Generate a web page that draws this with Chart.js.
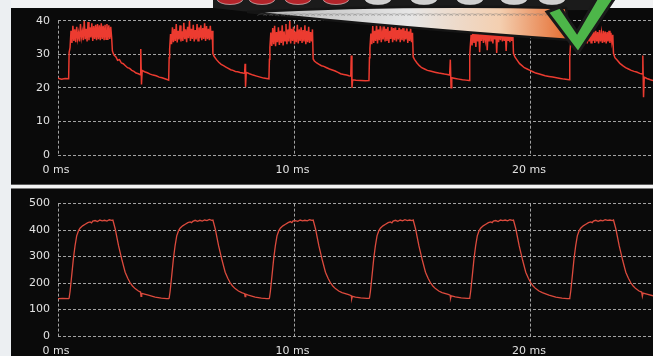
<!DOCTYPE html>
<html lang="en">
<head>
<meta charset="UTF-8">
<title>Scope traces</title>
<script src="https://cdn.jsdelivr.net/npm/chart.js"></script>
<style>
    html, body { margin: 0; padding: 0; }
    body {
        width: 653px;
        height: 356px;
        overflow: hidden;
        position: relative;
        background: #eceff2;
        font-family: "DejaVu Sans", sans-serif;
    }
    .panel { position: absolute; left: 11px; width: 642px; }
    #topPanel { top: 0; height: 184px; background: linear-gradient(to bottom, #f1f2f3 0, #f1f2f3 8px, #0a0a0a 8px); }
    #bottomPanel { top: 189px; height: 167px; background: #0a0a0a; }
    #divider {
        position: absolute; left: 11px; top: 184px; width: 642px; height: 5px;
        background: linear-gradient(to bottom, #5a5a5a 0, #5a5a5a 1px, #f4f4f4 1px, #f4f4f4 4px, #7a7a7a 4px);
    }
    canvas { display: block; }
</style>
</head>
<body>
<div class="panel" id="topPanel"><canvas id="topChart" width="642" height="184"></canvas></div>
<div id="divider"></div>
<div class="panel" id="bottomPanel"><canvas id="bottomChart" width="642" height="167"></canvas></div>

<script>
// time axis (ms)
const xTicks = [0, 10, 20];
const xMax = 25.16;

// top trace: [ms, value]
const topYTicks = [0, 10, 20, 30, 40];
const topTrace = [
    [0, 22.9], [0.15, 22.6], [0.3, 22.8], [0.45, 22.7],
    [0.47, 30.5], [0.51, 32], [0.55, 37], [0.59, 33.4], [0.63, 38.5], [0.67, 34], [0.71, 37.4], [0.75, 33.6],
    [0.79, 38.2], [0.83, 34.6], [0.87, 36.4], [0.91, 33.8], [0.95, 39], [0.99, 35], [1.03, 36.8], [1.07, 34.2],
    [1.11, 40], [1.15, 34.5], [1.19, 37.6], [1.23, 33.8], [1.27, 39.6], [1.31, 34.2], [1.35, 38], [1.39, 35],
    [1.43, 39.2], [1.47, 34], [1.51, 38.4], [1.55, 34.6], [1.59, 38.8], [1.63, 34.2], [1.67, 39], [1.71, 34.5],
    [1.75, 38.6], [1.79, 34.2], [1.83, 39.2], [1.87, 34.6], [1.91, 38.5], [1.95, 34.2], [1.99, 38.8], [2.03, 34.5],
    [2.07, 39], [2.11, 34.3], [2.15, 38.6], [2.19, 34.6], [2.23, 38.2], [2.27, 34.8],
    [2.30, 31], [2.36, 29.8], [2.45, 29.2], [2.52, 28.2], [2.60, 28.4], [2.68, 27.4], [2.76, 27.2], [2.85, 26.6],
    [2.94, 26], [3.03, 25.8], [3.12, 25.2], [3.21, 24.9], [3.30, 24.4], [3.40, 24.2], [3.48, 23.9], [3.50, 31.6],
    [3.53, 21], [3.56, 25.2], [3.66, 24.8], [3.78, 24.5], [3.90, 24.1], [4.02, 23.8], [4.15, 23.6], [4.28, 23.2],
    [4.40, 23], [4.52, 22.7], [4.64, 22.4], [4.68, 22.3],

    [4.70, 29], [4.72, 31.5], [4.76, 36], [4.80, 33], [4.84, 38], [4.88, 33.6], [4.92, 37.5], [4.96, 34],
    [5.00, 39], [5.04, 33.5], [5.08, 37], [5.12, 34.4], [5.16, 38.6], [5.20, 33.8], [5.24, 36.8], [5.28, 34],
    [5.32, 39.4], [5.36, 34.5], [5.40, 37.4], [5.44, 33.6], [5.48, 38.2], [5.52, 34.8], [5.56, 40], [5.60, 34],
    [5.64, 37.6], [5.68, 34.6], [5.72, 38.8], [5.76, 33.8], [5.80, 37.2], [5.84, 34.4], [5.88, 39], [5.92, 34],
    [5.96, 38], [6.00, 34.8], [6.04, 38.6], [6.08, 34.2], [6.12, 37.8], [6.16, 34.6], [6.20, 39.2], [6.24, 34],
    [6.28, 38.4], [6.32, 34.5], [6.36, 37.6], [6.40, 34.2], [6.44, 38.5], [6.48, 34.4], [6.52, 37],
    [6.55, 30.2], [6.60, 29.4], [6.70, 28.4], [6.80, 27.6], [6.90, 27], [7.00, 26.6], [7.10, 26.2], [7.20, 25.8],
    [7.30, 25.4], [7.40, 25.2], [7.50, 24.9], [7.60, 24.8], [7.70, 24.6], [7.82, 24.4], [7.89, 24.3], [7.91, 27.2],
    [7.93, 20.3], [7.96, 24.6], [8.10, 24.2], [8.25, 23.8], [8.40, 23.5], [8.55, 23.2], [8.70, 22.9], [8.82, 22.8],
    [8.92, 22.7],

    [8.94, 28.5], [8.96, 32], [9.00, 36.5], [9.04, 32.5], [9.08, 37.8], [9.12, 33], [9.16, 38.5], [9.20, 32.4],
    [9.24, 36.6], [9.28, 33.6], [9.32, 38], [9.36, 32.8], [9.40, 37], [9.44, 33.4], [9.48, 38.6], [9.52, 32.6],
    [9.56, 36.8], [9.60, 34], [9.64, 39], [9.68, 33], [9.72, 37.4], [9.76, 33.8], [9.80, 40], [9.84, 33.2],
    [9.88, 37.6], [9.92, 34], [9.96, 38.2], [10.00, 33], [10.04, 36.8], [10.08, 33.6], [10.12, 38.8], [10.16, 33.2],
    [10.20, 37.4], [10.24, 34], [10.28, 38], [10.32, 33.4], [10.36, 37.2], [10.40, 33.8], [10.44, 38.6], [10.48, 33],
    [10.52, 37], [10.56, 33.6], [10.60, 38.2], [10.64, 33.4], [10.68, 36.6], [10.72, 33.8], [10.76, 37.4],
    [10.79, 28.6], [10.84, 28], [10.94, 27.4], [11.04, 27], [11.14, 26.6], [11.24, 26.4], [11.36, 26], [11.48, 25.6],
    [11.60, 25.3], [11.72, 25], [11.84, 24.6], [11.95, 24.2], [12.08, 24], [12.20, 23.8], [12.30, 23.6], [12.38, 23.5],
    [12.40, 29.6], [12.43, 20], [12.46, 22.4], [12.60, 22.3], [12.80, 22.2], [13.00, 22.1], [13.15, 22.2],

    [13.17, 29], [13.19, 31.8], [13.23, 36.2], [13.27, 33], [13.31, 38.4], [13.35, 33.4], [13.39, 37], [13.43, 34],
    [13.47, 39], [13.51, 33.2], [13.55, 37.4], [13.59, 34.2], [13.63, 38.6], [13.67, 33.6], [13.71, 36.8], [13.75, 34.4],
    [13.79, 39.4], [13.83, 33.8], [13.87, 37.6], [13.91, 34], [13.95, 38.2], [13.99, 33.4], [14.03, 37], [14.07, 34.6],
    [14.11, 39], [14.15, 33.6], [14.19, 37.8], [14.23, 34.2], [14.27, 38.6], [14.31, 33.8], [14.35, 37.2], [14.39, 34.4],
    [14.43, 38.8], [14.47, 33.6], [14.51, 37.4], [14.55, 34.2], [14.59, 38.4], [14.63, 33.8], [14.67, 37], [14.71, 34.4],
    [14.75, 38.6], [14.79, 33.4], [14.83, 36.8], [14.87, 34], [14.91, 37.8], [14.95, 33.6], [14.99, 36.4],
    [15.02, 29.2], [15.08, 28.4], [15.18, 27.4], [15.28, 26.6], [15.38, 26], [15.50, 25.6], [15.62, 25.2], [15.74, 25],
    [15.86, 24.8], [15.98, 24.6], [16.10, 24.4], [16.22, 24.3], [16.34, 24.1], [16.46, 24], [16.56, 23.8], [16.59, 28.4],
    [16.62, 20], [16.65, 23], [16.80, 22.8], [16.95, 22.6], [17.10, 22.4], [17.25, 22.3], [17.38, 22.2],

    [17.41, 29.5], [17.43, 32], [17.47, 35.8], [17.51, 32.6], [17.55, 37.6], [17.59, 33.4], [17.63, 36.4], [17.67, 32.2],
    [17.71, 38], [17.75, 33.8], [17.79, 36.8], [17.83, 30.6], [17.87, 37.2], [17.91, 34], [17.95, 38.6], [17.99, 33.4],
    [18.03, 36.2], [18.07, 34.2], [18.11, 37.8], [18.15, 31.2], [18.19, 37], [18.23, 33.8], [18.27, 38.2], [18.31, 34],
    [18.35, 36.6], [18.39, 33.2], [18.43, 37.4], [18.47, 34.4], [18.51, 38], [18.55, 30.4], [18.59, 36.8], [18.63, 33.6],
    [18.67, 37.6], [18.71, 34.2], [18.75, 38.4], [18.79, 33.8], [18.83, 36.4], [18.87, 34], [18.91, 37.8], [18.95, 31],
    [18.99, 37], [19.03, 34.2], [19.07, 38], [19.11, 33.6], [19.15, 36.8], [19.19, 34], [19.23, 37.2],
    [19.26, 30.2], [19.32, 29.2], [19.42, 28.2], [19.52, 27.2], [19.62, 26.6], [19.72, 26], [19.84, 25.6], [19.96, 25.2],
    [20.08, 24.8], [20.20, 24.4], [20.32, 24.2], [20.46, 23.9], [20.60, 23.6], [20.76, 23.4], [20.92, 23.2], [21.08, 23],
    [21.24, 22.8], [21.40, 22.6], [21.54, 22.5], [21.62, 22.4],

    [21.64, 29], [21.66, 31.6], [21.70, 35.6], [21.74, 33], [21.78, 37], [21.82, 33.4], [21.86, 36.4], [21.90, 33.2],
    [21.94, 37.2], [21.98, 33.8], [22.02, 36], [22.06, 33.2], [22.10, 37.4], [22.14, 33.6], [22.18, 36.6], [22.22, 33.4],
    [22.26, 37], [22.30, 34], [22.34, 36.8], [22.38, 33.2], [22.42, 37.4], [22.46, 33.8], [22.50, 36.4], [22.54, 33.4],
    [22.58, 37.2], [22.62, 34], [22.66, 36.8], [22.70, 33.4], [22.74, 37], [22.78, 33.8], [22.82, 36.6], [22.86, 33.2],
    [22.90, 37.2], [22.94, 33.8], [22.98, 36.4], [23.02, 33.4], [23.06, 37], [23.10, 33.6], [23.14, 36.8], [23.18, 33.2],
    [23.22, 36.6], [23.26, 33.8], [23.30, 37], [23.34, 33.4], [23.38, 36.4], [23.42, 33.6], [23.46, 35.8],
    [23.49, 30.2], [23.55, 29], [23.65, 28.2], [23.76, 27.3], [23.88, 26.6], [24.00, 26], [24.12, 25.6], [24.24, 25.2],
    [24.36, 24.9], [24.47, 24.7], [24.60, 24.3], [24.70, 24.1], [24.73, 29.6], [24.76, 17.2], [24.79, 23.2], [24.90, 22.8],
    [25.05, 22.4], [25.16, 22.2]
];

// bottom trace: [ms, value]
const bottomYTicks = [0, 100, 200, 300, 400, 500];
const bottomTrace = [
    [0, 141], [0.2, 142], [0.45, 141],
    [0.47, 143], [0.51, 168], [0.58, 229], [0.65, 291], [0.72, 340], [0.79, 378], [0.87, 398], [0.93, 407],
    [1.04, 416], [1.15, 422], [1.26, 428], [1.36, 431], [1.42, 427], [1.47, 434], [1.57, 436], [1.67, 432],
    [1.77, 438], [1.87, 435], [1.97, 437], [2.07, 434], [2.17, 439], [2.27, 437], [2.32, 438], [2.42, 404],
    [2.56, 341], [2.71, 285], [2.84, 241], [2.95, 218], [3.05, 201], [3.15, 189], [3.26, 179], [3.40, 170],
    [3.49, 166], [3.51, 150], [3.54, 161], [3.82, 154], [4.11, 147], [4.37, 143], [4.60, 141], [4.68, 141],

    [4.70, 143], [4.74, 168], [4.81, 229], [4.88, 291], [4.95, 340], [5.02, 378], [5.10, 398], [5.16, 407],
    [5.27, 416], [5.38, 422], [5.49, 428], [5.59, 431], [5.65, 428], [5.70, 433], [5.80, 437], [5.90, 433],
    [6.00, 437], [6.10, 434], [6.20, 438], [6.30, 436], [6.40, 440], [6.50, 437], [6.55, 438], [6.65, 404],
    [6.79, 341], [6.94, 285], [7.07, 241], [7.18, 218], [7.28, 201], [7.38, 189], [7.49, 179], [7.63, 170],
    [7.77, 164], [7.89, 160], [7.91, 149], [7.94, 158], [8.05, 154], [8.34, 147], [8.60, 143], [8.83, 141],
    [8.92, 141],

    [8.94, 143], [8.98, 168], [9.05, 229], [9.12, 291], [9.19, 340], [9.26, 378], [9.34, 398], [9.40, 407],
    [9.51, 416], [9.62, 422], [9.73, 428], [9.83, 432], [9.89, 428], [9.94, 435], [10.04, 436], [10.14, 433],
    [10.24, 438], [10.34, 435], [10.44, 437], [10.54, 435], [10.64, 439], [10.74, 437], [10.79, 438], [10.89, 404],
    [11.03, 341], [11.18, 285], [11.31, 241], [11.42, 218], [11.52, 201], [11.62, 189], [11.73, 179], [11.87, 170],
    [12.01, 164], [12.29, 156], [12.40, 152], [12.42, 140], [12.45, 150], [12.58, 147], [12.80, 144], [13.06, 142],
    [13.15, 142],

    [13.17, 143], [13.21, 168], [13.28, 229], [13.35, 291], [13.42, 340], [13.49, 378], [13.57, 398], [13.63, 407],
    [13.74, 416], [13.85, 422], [13.96, 428], [14.06, 431], [14.12, 427], [14.17, 434], [14.27, 437], [14.37, 433],
    [14.47, 438], [14.57, 435], [14.67, 439], [14.77, 436], [14.87, 438], [14.97, 436], [15.02, 438], [15.12, 404],
    [15.26, 341], [15.41, 285], [15.54, 241], [15.65, 218], [15.75, 201], [15.85, 189], [15.96, 179], [16.10, 170],
    [16.24, 164], [16.50, 157], [16.58, 154], [16.60, 142], [16.63, 152], [16.80, 148], [17.05, 144], [17.30, 142],
    [17.38, 142],

    [17.41, 143], [17.45, 168], [17.52, 229], [17.59, 291], [17.66, 340], [17.73, 378], [17.81, 398], [17.87, 407],
    [17.98, 416], [18.09, 422], [18.20, 428], [18.30, 431], [18.36, 428], [18.41, 434], [18.51, 436], [18.61, 432],
    [18.71, 438], [18.81, 436], [18.91, 438], [19.01, 435], [19.11, 439], [19.21, 437], [19.26, 438], [19.36, 404],
    [19.50, 341], [19.65, 285], [19.78, 241], [19.89, 218], [19.99, 201], [20.09, 189], [20.20, 179], [20.34, 170],
    [20.48, 164], [20.76, 154], [21.05, 147], [21.31, 143], [21.54, 141], [21.62, 141],

    [21.64, 143], [21.68, 168], [21.75, 229], [21.82, 291], [21.89, 340], [21.96, 378], [22.04, 398], [22.10, 407],
    [22.21, 416], [22.32, 422], [22.43, 428], [22.53, 431], [22.59, 428], [22.64, 434], [22.74, 437], [22.84, 433],
    [22.94, 437], [23.04, 435], [23.14, 439], [23.24, 437], [23.34, 438], [23.44, 436], [23.49, 438], [23.59, 404],
    [23.73, 341], [23.88, 285], [24.01, 241], [24.12, 218], [24.22, 201], [24.32, 189], [24.43, 179], [24.57, 170],
    [24.68, 166], [24.71, 150], [24.74, 162], [24.90, 158], [25.16, 152]
];

// logo in the upper middle, drawn in page pixels
const logoPlugin = {
    id: 'logo',
    afterDraw(chart) {
        const c = chart.ctx;
        c.save();
        c.translate(-11, 0);

        // bottom of the title letters
        c.fillStyle = '#1b1b1b';
        c.beginPath();
        c.moveTo(213, 0); c.lineTo(615, 0); c.lineTo(600, 10); c.lineTo(250, 12); c.lineTo(213, 8);
        c.closePath();
        c.fill();
        const letters = [230, 262, 298, 336, 378, 424, 470, 514, 552];
        letters.forEach((cx, i) => {
            c.beginPath();
            c.ellipse(cx, -1, 13, 5.5, 0, 0, Math.PI);
            c.fillStyle = i < 4 ? '#b3242a' : '#cfcfcf';
            c.fill();
            c.lineWidth = 0.8;
            c.strokeStyle = 'rgba(235,235,235,0.7)';
            c.stroke();
        });

        // swoosh
        const g = c.createLinearGradient(250, 0, 570, 0);
        g.addColorStop(0, '#b5b5b5');
        g.addColorStop(0.5, '#e6e6e6');
        g.addColorStop(0.78, '#f4cfb0');
        g.addColorStop(1, '#e4692c');
        c.beginPath();
        c.moveTo(247, 12);
        c.quadraticCurveTo(400, 4, 566, 8);
        c.lineTo(570, 40);
        c.quadraticCurveTo(400, 28, 247, 12);
        c.closePath();
        c.fillStyle = g;
        c.fill();
        c.lineWidth = 2.5;
        c.strokeStyle = '#151515';
        c.stroke();
        c.strokeStyle = 'rgba(110,110,110,0.5)';
        c.lineWidth = 0.8;
        for (let x = 262; x < 560; x += 6) {
            c.beginPath();
            c.arc(x, 22, 8, -2.2, -0.9);
            c.stroke();
        }

        // check mark
        c.beginPath();
        c.moveTo(547, 12); c.lineTo(560, 7); c.lineTo(577, 32); c.lineTo(598, -4);
        c.lineTo(616, -4); c.lineTo(578, 53);
        c.closePath();
        c.fillStyle = '#4db649';
        c.fill();
        c.lineWidth = 3;
        c.strokeStyle = '#1a1a1a';
        c.stroke();

        c.restore();
    }
};

function makeChart(id, trace, yTicks, color, lineWidth, padTop, xAxisHeight, plugins) {
    const tickFont = { family: 'DejaVu Sans', size: 11 };
    return new Chart(document.getElementById(id), {
        type: 'line',
        data: {
            datasets: [{
                data: trace.map(p => ({ x: p[0], y: p[1] })),
                borderColor: color,
                borderWidth: lineWidth,
                pointRadius: 0,
                tension: 0,
                fill: false
            }]
        },
        options: {
            responsive: false,
            devicePixelRatio: 1,
            animation: false,
            events: [],
            parsing: false,
            layout: { padding: { top: padTop, left: 0, right: 0, bottom: 0 } },
            plugins: { legend: { display: false }, tooltip: { enabled: false } },
            scales: {
                x: {
                    type: 'linear',
                    min: 0,
                    max: xMax,
                    afterBuildTicks: s => { s.ticks = xTicks.map(v => ({ value: v })); },
                    afterFit: s => { s.height = xAxisHeight; },
                    ticks: {
                        callback: v => v + ' ms',
                        color: '#e2e2e2',
                        font: tickFont,
                        padding: 9,
                        labelOffset: -2,
                        maxRotation: 0,
                        autoSkip: false
                    },
                    grid: { color: '#a2a2a2', lineWidth: 1, drawTicks: false },
                    border: { display: false, dash: [3, 2] }
                },
                y: {
                    min: 0,
                    max: yTicks[yTicks.length - 1],
                    afterBuildTicks: s => { s.ticks = yTicks.map(v => ({ value: v })); },
                    afterFit: s => { s.width = 47; },
                    ticks: { color: '#e2e2e2', font: tickFont, padding: 8 },
                    grid: { color: '#a2a2a2', lineWidth: 1, drawTicks: false },
                    border: { display: false, dash: [3, 2] }
                }
            }
        },
        plugins: plugins
    });
}

makeChart('topChart', topTrace, topYTicks, '#ec3b30', 1.5, 20.7, 29, [logoPlugin]);
makeChart('bottomChart', bottomTrace, bottomYTicks, '#db4a3d', 1.3, 13.7, 20, []);
</script>
</body>
</html>
